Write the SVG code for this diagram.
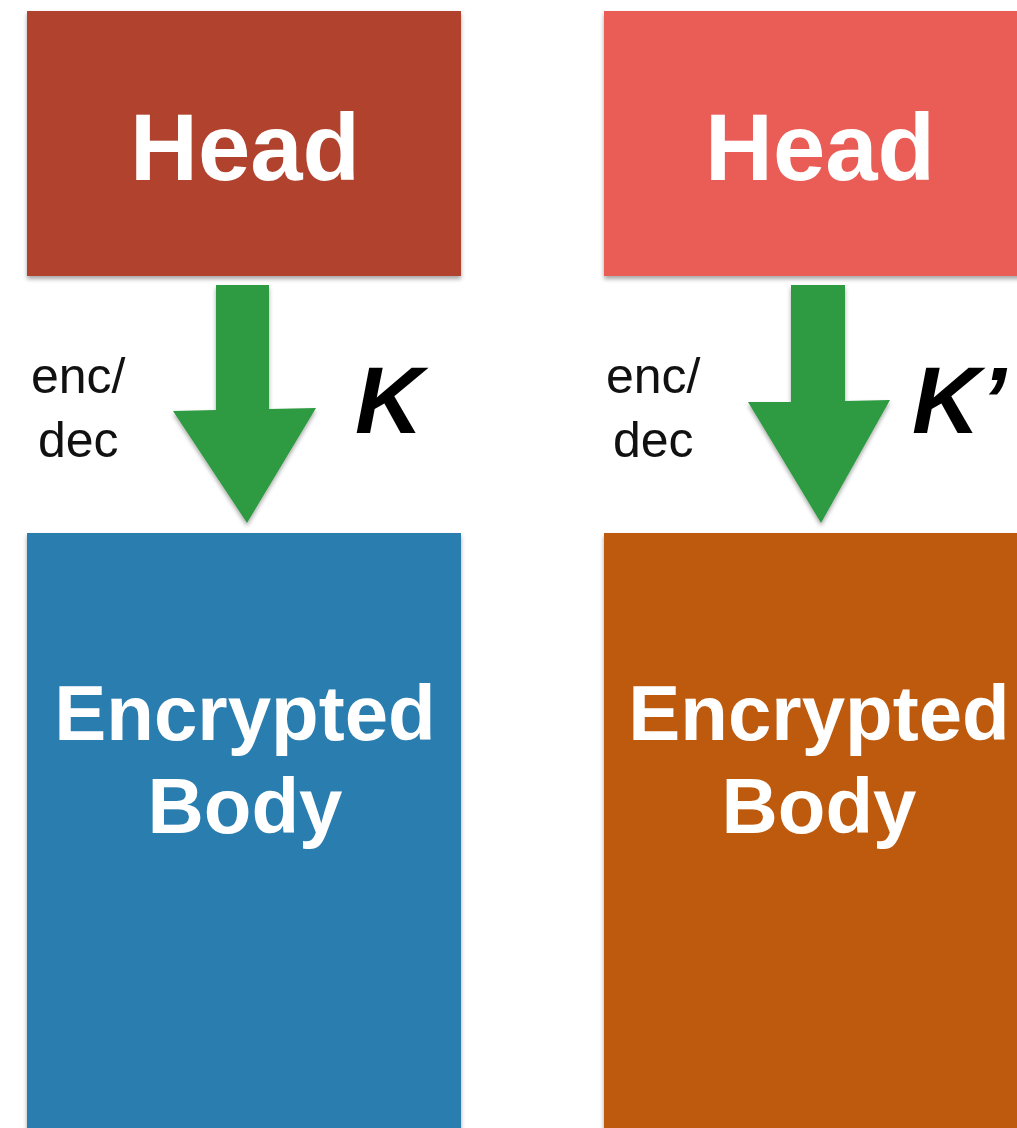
<svg xmlns="http://www.w3.org/2000/svg" width="1017" height="1128" viewBox="0 0 1017 1128">
<style>
.big{font-family:"Liberation Sans",Arial,sans-serif;font-weight:bold;fill:#ffffff;text-anchor:middle}
.lbl{font-family:"Liberation Sans",Arial,sans-serif;font-size:50px;fill:#111111}
.key{font-family:"Liberation Sans",Arial,sans-serif;font-size:94px;font-weight:bold;font-style:italic;fill:#000000}
.arrow{fill:#2E9A42}
</style>
<defs>
<filter id="sh" x="-5%" y="-5%" width="110%" height="115%">
<feDropShadow dx="0" dy="3" stdDeviation="2" flood-color="#000" flood-opacity="0.35"/>
</filter>
</defs>
<rect width="1017" height="1128" fill="#ffffff"/>
<g id="head-left">
<rect x="27" y="11" width="434" height="265" fill="#B1432F" filter="url(#sh)"/>
<text class="big" x="245" y="180" font-size="94">Head</text>
</g>
<g id="head-right">
<rect x="604" y="11" width="420" height="265" fill="#EA5D57" filter="url(#sh)"/>
<text class="big" x="820" y="180" font-size="94">Head</text>
</g>
<g id="body-left">
<rect x="27" y="533" width="434" height="600" fill="#2B7DAF" filter="url(#sh)"/>
<text class="big" x="245" y="740" font-size="78">Encrypted</text>
<text class="big" x="245" y="833" font-size="78">Body</text>
</g>
<g id="body-right">
<rect x="604" y="533" width="420" height="600" fill="#BD5A10" filter="url(#sh)"/>
<text class="big" x="819" y="740" font-size="78">Encrypted</text>
<text class="big" x="819" y="833" font-size="78">Body</text>
</g>
<g id="connectors">
<polygon class="arrow" filter="url(#sh)" points="216,285 269,285 269,409 316,408 247,523 173,411 216,410"/>
<polygon class="arrow" filter="url(#sh)" points="791,285 845,285 845,401 890,400 821,523 748,402 791,402"/>
</g>
<g id="labels">
<text class="lbl" x="31" y="393">enc/</text>
<text class="lbl" x="38" y="457">dec</text>
<text class="key" x="355" y="433">K</text>
<text class="lbl" x="606" y="393">enc/</text>
<text class="lbl" x="613" y="457">dec</text>
<text class="key" x="912" y="433">K’</text>
</g>
</svg>
